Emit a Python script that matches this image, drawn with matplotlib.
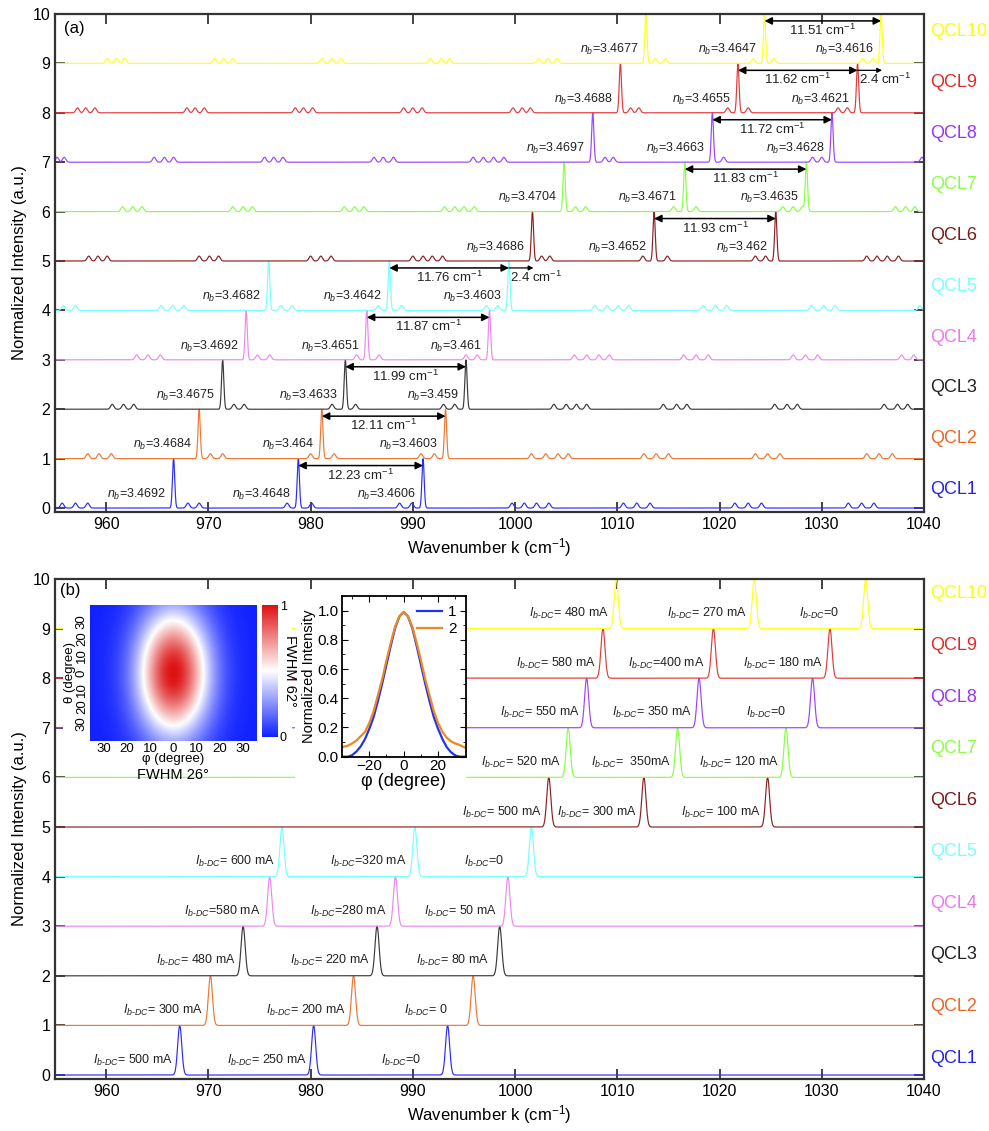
import numpy as np
import matplotlib
matplotlib.use("Agg")
import matplotlib.pyplot as plt
from matplotlib.colors import LinearSegmentedColormap
from matplotlib.patches import Rectangle

plt.rcParams['font.family'] = ['Liberation Sans', 'DejaVu Sans']
plt.rcParams['mathtext.fontset'] = 'custom'
plt.rcParams['mathtext.rm'] = 'Liberation Sans'
plt.rcParams['mathtext.it'] = 'Liberation Sans:italic'
plt.rcParams['mathtext.bf'] = 'Liberation Sans:bold'

# ---------------- data ----------------
qcl_names = ["QCL1", "QCL2", "QCL3", "QCL4", "QCL5", "QCL6", "QCL7", "QCL8", "QCL9", "QCL10"]
qcl_colors = ["#2b2bff", "#ee7733", "#3a3a3a", "#ee88ee", "#77ffff",
              "#882222", "#88ff44", "#9944ff", "#e03a3a", "#ffff22"]
label_colors = ["#2222ee", "#ee6622", "#222222", "#ee77ee", "#77ffff",
                "#7a1a1a", "#88ff44", "#9933ff", "#e02a2a", "#ffff00"]

# panel (a): main modes (cm-1)
main_a = [[966.6, 978.8, 991.0], [969.1, 981.1, 993.2], [971.4, 983.4, 995.2],
          [973.7, 985.5, 997.5], [975.9, 987.7, 999.4], [1001.7, 1013.6, 1025.5],
          [1004.8, 1016.6, 1028.5], [1007.6, 1019.3, 1031.0], [1010.3, 1021.8, 1033.5],
          [1012.8, 1024.4, 1035.8]]
# panel (a): side modes (cm-1)
side_a = [
    [955.7, 957.0, 958.2, 968.0, 969.1, 977.7, 980.1, 988.7, 989.9, 999.7, 1000.9, 1002.1, 1003.3,
     1010.6, 1011.9, 1013.2, 1021.5, 1022.8, 1024.1, 1032.6, 1033.9, 1035.1],
    [958.2, 959.3, 960.5, 970.2, 971.4, 980.0, 982.3, 990.8, 992.1, 1001.6, 1003.0, 1004.2, 1005.2,
     1012.6, 1013.8, 1015.0, 1023.5, 1024.7, 1025.9, 1034.4, 1035.6, 1036.9],
    [960.6, 961.7, 962.7, 972.5, 973.5, 982.1, 984.4, 993.0, 994.1, 1003.8, 1005.0, 1006.0, 1007.0,
     1014.5, 1015.8, 1016.8, 1025.4, 1026.6, 1027.6, 1036.1, 1037.4, 1038.4],
    [963.0, 964.1, 965.3, 974.8, 976.0, 984.5, 986.7, 995.2, 996.3, 1005.8, 1007.0, 1008.2, 1009.2,
     1016.5, 1017.7, 1018.9, 1027.2, 1028.4, 1029.6, 1037.8, 1039.0],
    [955.8, 957.0, 965.4, 966.5, 967.6, 977.1, 978.2, 986.6, 988.9, 997.2, 998.3, 1007.8, 1009.0,
     1010.1, 1011.1, 1018.4, 1019.6, 1020.7, 1029.0, 1030.2, 1031.3, 1039.6],
    [958.3, 959.2, 960.1, 969.1, 970.1, 971.0, 980.0, 981.0, 982.0, 990.0, 991.0, 991.9, 992.9,
     1002.6, 1003.4, 1012.5, 1014.9, 1023.5, 1024.5, 1034.4, 1035.4, 1036.4, 1037.5],
    [961.6, 962.6, 963.5, 972.4, 973.4, 974.3, 983.3, 984.3, 985.2, 993.1, 994.1, 995.0, 996.0,
     1005.9, 1006.9, 1015.5, 1017.7, 1026.2, 1027.2, 1028.1, 1037.2, 1038.2, 1039.1],
    [955.2, 955.9, 964.7, 965.7, 966.6, 975.5, 976.4, 977.3, 986.2, 987.1, 988.1, 995.9, 996.9,
     997.9, 998.9, 1008.8, 1009.6, 1020.4, 1029.1, 1030.0, 1039.8],
    [957.2, 958.0, 958.9, 967.9, 968.7, 969.6, 978.5, 979.3, 980.2, 989.1, 990.0, 990.9, 999.8,
     1000.7, 1001.5, 1011.3, 1012.1, 1020.8, 1022.8, 1031.6, 1032.5],
    [960.1, 961.0, 961.8, 970.6, 971.5, 972.4, 981.1, 982.1, 983.0, 991.7, 992.8, 993.6, 1002.3,
     1003.2, 1004.1, 1013.7, 1014.7, 1023.3, 1025.3, 1034.0, 1035.0],
]
side_height = 0.1
nb_values = [["3.4692", "3.4648", "3.4606"], ["3.4684", "3.464", "3.4603"],
             ["3.4675", "3.4633", "3.459"], ["3.4692", "3.4651", "3.461"],
             ["3.4682", "3.4642", "3.4603"], ["3.4686", "3.4652", "3.462"],
             ["3.4704", "3.4671", "3.4635"], ["3.4697", "3.4663", "3.4628"],
             ["3.4688", "3.4655", "3.4621"], ["3.4677", "3.4647", "3.4616"]]
spacing_labels = ["12.23", "12.11", "11.99", "11.87", "11.76",
                  "11.93", "11.83", "11.72", "11.62", "11.51"]
extra_spacing_qcl = [4, 8]
extra_spacing_value = "2.4"
extra_spacing_width = 2.4

# panel (b): tuned modes (cm-1) and bias currents
main_b = [[967.2, 980.3, 993.4], [970.2, 984.2, 995.9], [973.4, 986.5, 998.5],
          [976.0, 988.3, 999.3], [977.2, 990.2, 1001.6], [1003.3, 1012.6, 1024.7],
          [1005.2, 1015.9, 1026.5], [1007.0, 1018.0, 1029.1], [1008.6, 1019.4, 1030.8],
          [1009.9, 1023.4, 1034.3]]
current_b = [["= 500 mA", "= 250 mA", "=0"], ["= 300 mA", "= 200 mA", "= 0"],
             ["= 480 mA", "= 220 mA", "= 80 mA"], ["=580 mA", "=280 mA", "= 50 mA"],
             ["= 600 mA", "=320 mA", "=0"], ["= 500 mA", "= 300 mA", "= 100 mA"],
             ["= 520 mA", "=  350mA", "= 120 mA"], ["= 550 mA", "= 350 mA", "=0"],
             ["= 580 mA", "=400 mA", "= 180 mA"], ["= 480 mA", "= 270 mA", "=0"]]

# inset: far field
fwhm_phi = 26.0
fwhm_theta = 62.0
phi_pts = [-36, -32.5, -30, -27.5, -25, -22.5, -20, -17.5, -15, -12.5, -10, -7.5, -5, -2.5, 0,
           2.5, 5, 7.5, 10, 12.5, 15, 17.5, 20, 22.5, 25, 27.5, 30, 32.5, 36]
profile1 = [0.0, 0.0, 0.01, 0.035, 0.07, 0.12, 0.19, 0.27, 0.38, 0.50, 0.63, 0.76, 0.88, 0.96, 0.99,
            0.96, 0.88, 0.76, 0.63, 0.50, 0.38, 0.27, 0.19, 0.12, 0.065, 0.03, 0.008, 0.0, 0.0]
profile2 = [0.065, 0.075, 0.09, 0.11, 0.14, 0.17, 0.23, 0.31, 0.42, 0.53, 0.66, 0.78, 0.89, 0.96, 0.99,
            0.96, 0.89, 0.78, 0.66, 0.53, 0.42, 0.31, 0.23, 0.17, 0.13, 0.105, 0.09, 0.08, 0.06]

# ---------------- figure ----------------
W, H = 989, 1131
fig = plt.figure(figsize=(W / 100, H / 100), dpi=100)

def fx(px):
    return px / W

def fy(py):
    return 1 - py / H

ax_a = fig.add_axes([fx(55), fy(512), fx(924) - fx(55), fy(14) - fy(512)])
ax_b = fig.add_axes([fx(55), fy(1079), fx(924) - fx(55), fy(579) - fy(1079)])

k = np.linspace(955, 1040, 8501)

def spectrum(centers, heights, sigma):
    y = np.zeros_like(k)
    for c, h in zip(centers, heights):
        y += h * np.exp(-0.5 * ((k - c) / sigma) ** 2)
    return y

def style_main(ax):
    ax.set_xlim(955, 1040)
    ax.set_ylim(-0.08, 10)
    ax.set_xticks(np.arange(960, 1041, 10))
    ax.set_yticks(np.arange(0, 11, 1))
    ax.tick_params(axis='both', which='major', direction='in', top=True, right=True,
                   length=7, width=1.2, labelsize=11.5, color='#222222')
    for s in ax.spines.values():
        s.set_linewidth(1.6)
        s.set_color('#333333')
    ax.set_ylabel("Normalized Intensity (a.u.)", fontsize=12, labelpad=4)
    ax.set_xlabel("Wavenumber k (cm$^{-1}$)", fontsize=12, labelpad=3)

# ----- panel (a)
for i in range(10):
    y = spectrum(main_a[i], [1.0] * 3, 0.11)
    y += spectrum(side_a[i], [side_height] * len(side_a[i]), 0.16)
    ax_a.plot(k, i + y, color=qcl_colors[i], lw=0.85, zorder=2)
    for j in range(3):
        ax_a.text(main_a[i][j] - 0.7, i + 0.28, "$n_b$=" + nb_values[i][j], ha='right', va='center',
                  fontsize=9, color='#222222', zorder=4)
    x2, x3 = main_a[i][1], main_a[i][2]
    ax_a.annotate('', xy=(x3, i + 0.86), xytext=(x2, i + 0.86),
                  arrowprops=dict(arrowstyle='<|-|>', color='black', lw=1.1, mutation_scale=11,
                                  shrinkA=0, shrinkB=0), zorder=5)
    ax_a.text((x2 + x3) / 2, i + 0.67, spacing_labels[i] + " cm$^{-1}$", ha='center', va='center',
              fontsize=9.5, color='#222222', zorder=4)
    ax_a.text(1.007, (0.37 + i * 1.03 + 0.08) / 10.08, qcl_names[i], transform=ax_a.transAxes,
              ha='left', va='center', fontsize=13, color=label_colors[i])

for i in extra_spacing_qcl:
    x3 = main_a[i][2]
    ax_a.annotate('', xy=(x3 + extra_spacing_width, i + 0.86), xytext=(x3, i + 0.86),
                  arrowprops=dict(arrowstyle='-|>', color='black', lw=0.9, mutation_scale=7,
                                  shrinkA=0, shrinkB=0), zorder=5)
    ax_a.text(x3 + 0.1, i + 0.67, extra_spacing_value + " cm$^{-1}$", ha='left', va='center',
              fontsize=9.5, color='#222222', zorder=4)

ax_a.text(0.01, 0.985, "(a)", transform=ax_a.transAxes, ha='left', va='top', fontsize=12)
style_main(ax_a)

# ----- panel (b)
for i in range(10):
    y = spectrum(main_b[i], [1.0] * 3, 0.2)
    ax_b.plot(k, i + y, color=qcl_colors[i], lw=0.85, zorder=2)
    for j in range(3):
        ax_b.text(main_b[i][j] - 4.6, i + 0.3, "$I_{b\\text{-}DC}$" + current_b[i][j], ha='center',
                  va='center', fontsize=9, color='#222222', zorder=4)
    ax_b.text(1.007, (0.34 + i * 1.04 + 0.08) / 10.08, qcl_names[i], transform=ax_b.transAxes,
              ha='left', va='center', fontsize=13, color=label_colors[i])

style_main(ax_b)

# white backgrounds for the insets
fig.patches.append(Rectangle((fx(63), fy(772)), fx(292) - fx(63), fy(600) - fy(772),
                             transform=fig.transFigure, facecolor='white', edgecolor='none', zorder=1))
fig.patches.append(Rectangle((fx(295), fy(795)), fx(466) - fx(295), fy(590) - fy(795),
                             transform=fig.transFigure, facecolor='white', edgecolor='none', zorder=1))
fig.text(fx(60), fy(583), "(b)", ha='left', va='top', fontsize=12, zorder=6)

# ----- inset 1: far-field map
ax_ff = fig.add_axes([fx(90), fy(740.7), fx(256.7) - fx(90), fy(605) - fy(740.7)])
ax_ff.set_zorder(3)
phi = np.linspace(-36, 36, 361)
theta = np.linspace(-40, 40, 401)
PP, TT = np.meshgrid(phi, theta)
ff = np.exp(-4 * np.log(2) * ((PP / fwhm_phi) ** 2 + (TT / fwhm_theta) ** 2))
cmap = LinearSegmentedColormap.from_list('bwr2', ['#1122ff', '#ffffff', '#dd1111'])
im = ax_ff.imshow(ff, extent=[-36, 36, -40, 40], origin='lower', aspect='auto', cmap=cmap,
                  vmin=0, vmax=1)
ticks = [-30, -20, -10, 0, 10, 20, 30]
ax_ff.set_xticks(ticks)
ax_ff.set_xticklabels([str(abs(t)) for t in ticks])
ax_ff.set_yticks(ticks)
ax_ff.set_yticklabels([str(abs(t)) for t in ticks], rotation=90, va='center')
ax_ff.tick_params(length=0, labelsize=9.5, pad=1.5)
for s in ax_ff.spines.values():
    s.set_visible(False)
ax_ff.set_xlabel("φ (degree)", fontsize=9.5, labelpad=-1)
ax_ff.set_ylabel("θ (degree)", fontsize=9.5, labelpad=0)
ax_ff.text(0.5, -0.255, "FWHM 26°", transform=ax_ff.transAxes, ha='center', va='center', fontsize=10.5)

cax = fig.add_axes([fx(261.7), fy(736.7), fx(277.7) - fx(261.7), fy(605) - fy(736.7)])
cax.set_zorder(3)
cb = fig.colorbar(im, cax=cax, ticks=[0, 1])
cb.outline.set_visible(False)
cb.ax.tick_params(length=0, labelsize=9, pad=1.5)
cax.text(1.75, 0.5, "FWHM 62°", transform=cax.transAxes, rotation=270, ha='center', va='center',
         fontsize=10.5)

# ----- inset 2: profiles
ax_p = fig.add_axes([fx(341.7), fy(756.7), fx(465.7) - fx(341.7), fy(596) - fy(756.7)])
ax_p.set_zorder(3)
ax_p.plot(phi_pts, profile1, color='#2233ee', lw=1.6, label='1')
ax_p.plot(phi_pts, profile2, color='#ee8822', lw=1.6, label='2')
ax_p.set_xlim(-36, 36)
ax_p.set_ylim(0, 1.1)
ax_p.set_xticks([-20, 0, 20])
ax_p.set_xticks(np.arange(-30, 31, 10), minor=True)
ax_p.set_yticks(np.arange(0, 1.01, 0.2))
ax_p.set_yticks(np.arange(0, 1.11, 0.1), minor=True)
ax_p.set_yticklabels(["0.0", "0.2", "0.4", "0.6", "0.8", "1.0"])
ax_p.tick_params(which='both', direction='in', top=True, right=True, labelsize=11, pad=2)
ax_p.tick_params(which='major', length=4)
ax_p.tick_params(which='minor', length=2.5)
for s in ax_p.spines.values():
    s.set_linewidth(1.3)
ax_p.set_xlabel("φ (degree)", fontsize=13, labelpad=0)
ax_p.set_ylabel("Normalized Intensity", fontsize=10.5, labelpad=1)
ax_p.legend(loc='upper right', frameon=False, fontsize=11, handlelength=1.6,
            borderaxespad=0.2, labelspacing=0.2, handletextpad=0.4)

fig.savefig("out.png", dpi=100)
